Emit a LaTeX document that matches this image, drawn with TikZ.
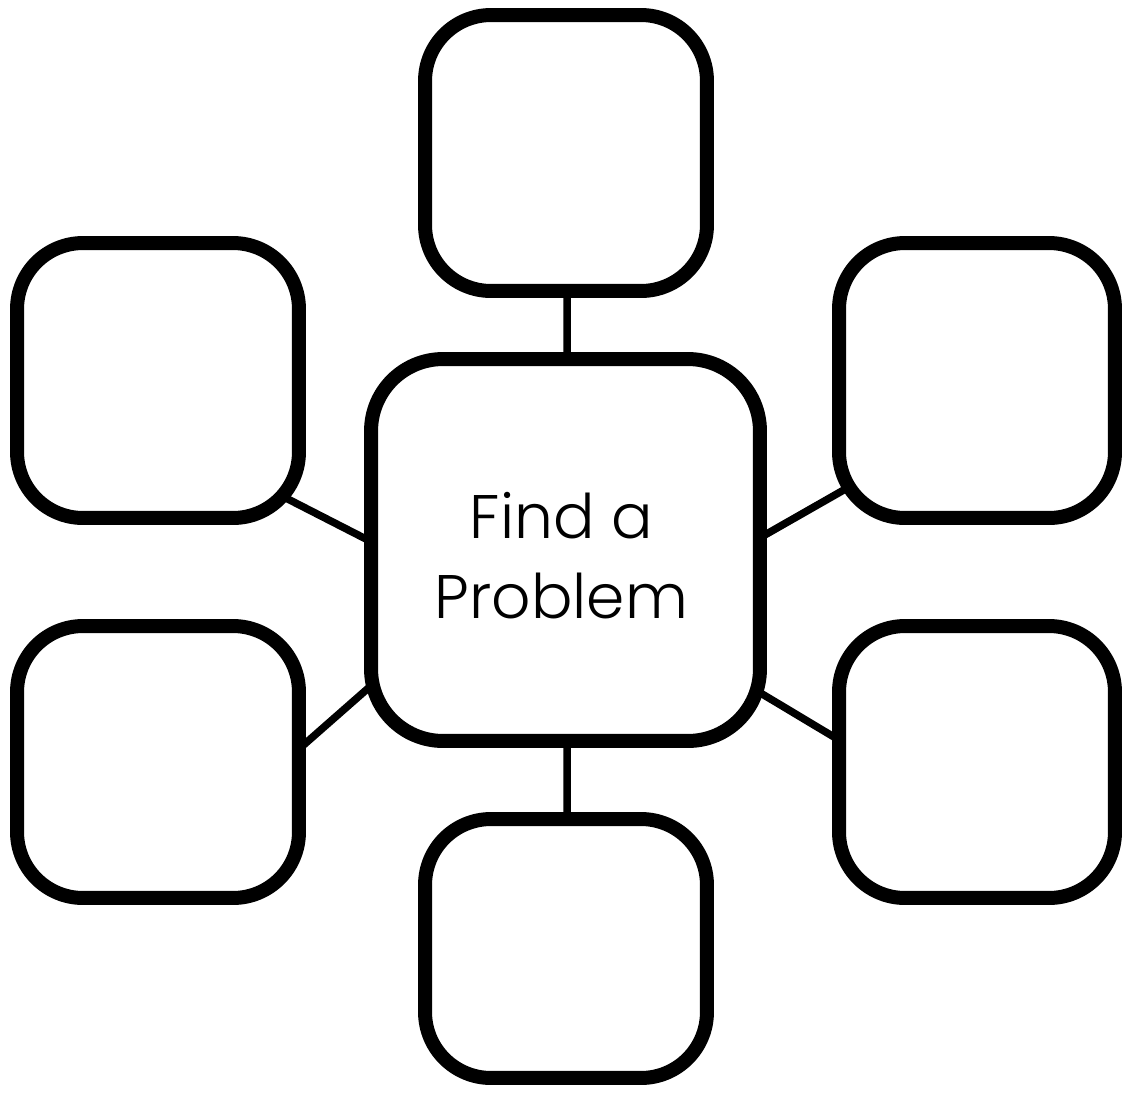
\documentclass[tikz,border=0pt]{standalone}
\usepackage{fontspec}
\IfFontExistsTF{Poppins Light}{\setmainfont{Poppins Light}}{\setmainfont{Poppins}}
\usetikzlibrary{positioning, calc}

\begin{document}
\begin{tikzpicture}[
  x=0.02cm, y=-0.02cm,
  idea/.style={draw=black, fill=white, line width=0.28cm, rounded corners=1.32cm,
               minimum width=5.64cm, minimum height=5.5cm, inner sep=0pt},
  core/.style={draw=black, fill=white, line width=0.28cm, rounded corners=1.44cm,
               minimum width=7.78cm, minimum height=7.64cm, inner sep=0pt},
  title/.style={align=center, inner sep=0pt, font=\fontsize{35}{45.5}\selectfont},
  link/.style={draw=black, line width=0.15cm},
]
\useasboundingbox (0,0) rectangle (1127,1093);

% --- Connectors (drawn first, boxes cover their ends) ---
\coordinate (c0) at (565.5,550);
\coordinate (t0) at (566,153);
\coordinate (b0) at (566,948.5);
\coordinate (lu0) at (158,380.5);
\coordinate (ll0) at (158,762);
\coordinate (ru0) at (977,380.5);
\coordinate (rl0) at (977,762);

\draw[link] ($(t0)+(1,100)$) -- ($(c0)+(1.5,-150)$);
\draw[link] ($(b0)+(1,-100)$) -- ($(c0)+(1.5,150)$);
\draw[link] ($(lu0)+(122,114.5)$) -- ($(c0)+(-180,-1)$);
\draw[link] ($(ll0)+(141,-13)$) -- ($(c0)+(-180,123)$);
\draw[link] ($(ru0)+(-121,102.5)$) -- ($(c0)+(180,-4)$);
\draw[link] ($(rl0)+(-138,-22)$) -- ($(c0)+(180,134)$);

% --- Centre box ---
\node[core] (ctr) at (c0) {};
\node[title] (ctrtxt) at ($(c0)+(-4,6)$) {Find a\\Problem};

% --- Surrounding boxes ---
\node[idea, minimum height=5.52cm] (tp) at (t0) {};
\node[idea, minimum height=5.18cm] (bt) at (b0) {};
\node[idea] (lu) at (lu0) {};
\node[idea, minimum height=5.44cm] (ll) at (ll0) {};
\node[idea, minimum width=5.52cm] (ru) at (ru0) {};
\node[idea, minimum width=5.52cm, minimum height=5.44cm] (rl) at (rl0) {};

\end{tikzpicture}
\end{document}
